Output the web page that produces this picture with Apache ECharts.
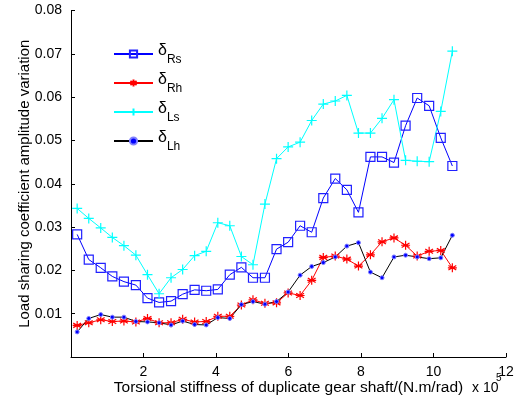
<!DOCTYPE html>
<html>
<head>
<meta charset="utf-8">
<script src="https://cdn.jsdelivr.net/npm/echarts@6/dist/echarts.min.js"></script>
<style>html,body{margin:0;padding:0;background:#fff}#c{width:518px;height:405px}</style>
</head>
<body>
<div id="c"></div>
<script>
// Torsional stiffness (x 10^5 N.m/rad)
var stiffness = [0.17, 0.49, 0.82, 1.14, 1.46, 1.79, 2.11, 2.43, 2.76, 3.08, 3.41, 3.73, 4.05, 4.38, 4.70, 5.02, 5.35, 5.67, 5.99, 6.32, 6.64, 6.96, 7.29, 7.61, 7.93, 8.26, 8.58, 8.91, 9.23, 9.55, 9.88, 10.20, 10.52];
var deltaRs = [0.0283, 0.0225, 0.0206, 0.0186, 0.0174, 0.0166, 0.0136, 0.0126, 0.0129, 0.0145, 0.0155, 0.0153, 0.0156, 0.0190, 0.0207, 0.0183, 0.0183, 0.0249, 0.0265, 0.0303, 0.0288, 0.0367, 0.0412, 0.0386, 0.0334, 0.0462, 0.0462, 0.0449, 0.0534, 0.0598, 0.0580, 0.0506, 0.0441];
var deltaRh = [0.0073, 0.0079, 0.0086, 0.0082, 0.0083, 0.0081, 0.0089, 0.0079, 0.0079, 0.0087, 0.0081, 0.0082, 0.0094, 0.0094, 0.0120, 0.0132, 0.0124, 0.0125, 0.0148, 0.0142, 0.0177, 0.0230, 0.0233, 0.0226, 0.0210, 0.0236, 0.0266, 0.0275, 0.0258, 0.0233, 0.0244, 0.0246, 0.0206];
var deltaLs = [0.0343, 0.0320, 0.0298, 0.0276, 0.0257, 0.0235, 0.0190, 0.0146, 0.0183, 0.0202, 0.0234, 0.0244, 0.0310, 0.0303, 0.0232, 0.0213, 0.0353, 0.0458, 0.0485, 0.0496, 0.0546, 0.0584, 0.0591, 0.0604, 0.0517, 0.0517, 0.0551, 0.0594, 0.0454, 0.0452, 0.0451, 0.0567, 0.0706];
var deltaLh = [0.0058, 0.0089, 0.0098, 0.0092, 0.0092, 0.0082, 0.0081, 0.0079, 0.0074, 0.0083, 0.0075, 0.0074, 0.0091, 0.0089, 0.0121, 0.0128, 0.0122, 0.0128, 0.0150, 0.0189, 0.0209, 0.0218, 0.0231, 0.0256, 0.0264, 0.0196, 0.0183, 0.0231, 0.0235, 0.0231, 0.0227, 0.0229, 0.0281];
var seriesNames = ['Rs', 'Rh', 'Ls', 'Lh'];
var xTicks = [2, 4, 6, 8, 10, 12];
var yTicks = [0.01, 0.02, 0.03, 0.04, 0.05, 0.06, 0.07, 0.08];

function pairs(ys) { return stiffness.map(function (x, i) { return [x, ys[i]]; }); }

var FONT = '"Liberation Sans", Arial, sans-serif';
var chart = echarts.init(document.getElementById('c'), null, { renderer: 'canvas' });
var asterisk = 'path://M0,-1L0,1M-0.87,-0.5L0.87,0.5M-0.87,0.5L0.87,-0.5M-1,0L1,0';
var plus = 'path://M0,-1L0,1M-1,0L1,0';

chart.setOption({
  animation: false,
  backgroundColor: '#fff',
  grid: { left: 71, right: 12, top: 10.5, bottom: 48, containLabel: false },
  xAxis: {
    type: 'value', min: 0, max: 12, interval: 2,
    name: 'Torsional stiffness of duplicate gear shaft/(N.m/rad)',
    nameLocation: 'middle', nameGap: 23, nameMoveOverlap: false,
    nameTextStyle: { color: '#000', fontSize: 15.5, fontFamily: FONT },
    axisLine: { show: true, lineStyle: { color: '#000', width: 1 } },
    axisTick: { show: true, inside: true, length: 4, lineStyle: { color: '#000' } },
    axisLabel: { color: '#000', fontSize: 14, fontFamily: FONT, margin: 8,
      formatter: function (v) { return xTicks.indexOf(v) >= 0 ? String(v) : ''; } },
    splitLine: { show: false }
  },
  yAxis: {
    type: 'value', min: 0, max: 0.08, interval: 0.01,
    name: 'Load sharing coefficient amplitude variation',
    nameLocation: 'middle', nameGap: 39, nameMoveOverlap: false,
    nameTextStyle: { color: '#000', fontSize: 15, fontFamily: FONT },
    axisLine: { show: true, lineStyle: { color: '#000', width: 1 } },
    axisTick: { show: true, inside: true, length: 4, lineStyle: { color: '#000' } },
    axisLabel: { color: '#000', fontSize: 14, fontFamily: FONT, margin: 9,
      formatter: function (v) {
        for (var i = 0; i < yTicks.length; i++) if (Math.abs(yTicks[i] - v) < 1e-9) return yTicks[i].toFixed(2);
        return '';
      } },
    splitLine: { show: false }
  },
  legend: {
    orient: 'vertical', left: 108, top: 38,
    itemWidth: 39, itemHeight: 9, itemGap: 6,
    data: seriesNames,
    formatter: function (n) { return '{d|δ}{s|' + n + '}'; },
    textStyle: {
      color: '#000', fontFamily: FONT,
      rich: {
        d: { fontSize: 16, fontFamily: FONT, color: '#000', height: 18, verticalAlign: 'top', padding: [0, 0, 6, 0] },
        s: { fontSize: 12, fontFamily: FONT, color: '#000', verticalAlign: 'bottom', padding: [8, 0, 0, 0] }
      }
    }
  },
  series: [
    { name: 'Rs', type: 'line', data: pairs(deltaRs), symbol: 'rect', symbolSize: 9,
      lineStyle: { color: '#0000ff', width: 1 },
      itemStyle: { color: 'rgba(0,0,0,0)', borderColor: '#2020ff', borderWidth: 1.2 } },
    { name: 'Rh', type: 'line', data: pairs(deltaRh), symbol: asterisk, symbolSize: 9,
      lineStyle: { color: '#ff0000', width: 1 },
      itemStyle: { color: '#ff0000', borderColor: '#ff0000', borderWidth: 1.2 } },
    { name: 'Ls', type: 'line', data: pairs(deltaLs), symbol: plus, symbolSize: 10,
      lineStyle: { color: '#00ffff', width: 1 },
      itemStyle: { color: '#00ffff', borderColor: '#00ffff', borderWidth: 1.2 } },
    { name: 'Lh', type: 'line', data: pairs(deltaLh), symbol: 'circle', symbolSize: 4,
      lineStyle: { color: '#000000', width: 1 },
      itemStyle: { color: '#0000ff', borderColor: '#8080ff', borderWidth: 1 } }
  ],
  graphic: [
    { type: 'text', z: 100, left: 472, top: 381, style: { text: 'x 10', fontSize: 14, fontFamily: FONT, fill: '#000' } },
    { type: 'text', z: 100, left: 496, top: 373, style: { text: '5', fontSize: 10, fontFamily: FONT, fill: '#000' } }
  ]
});
</script>
</body>
</html>
